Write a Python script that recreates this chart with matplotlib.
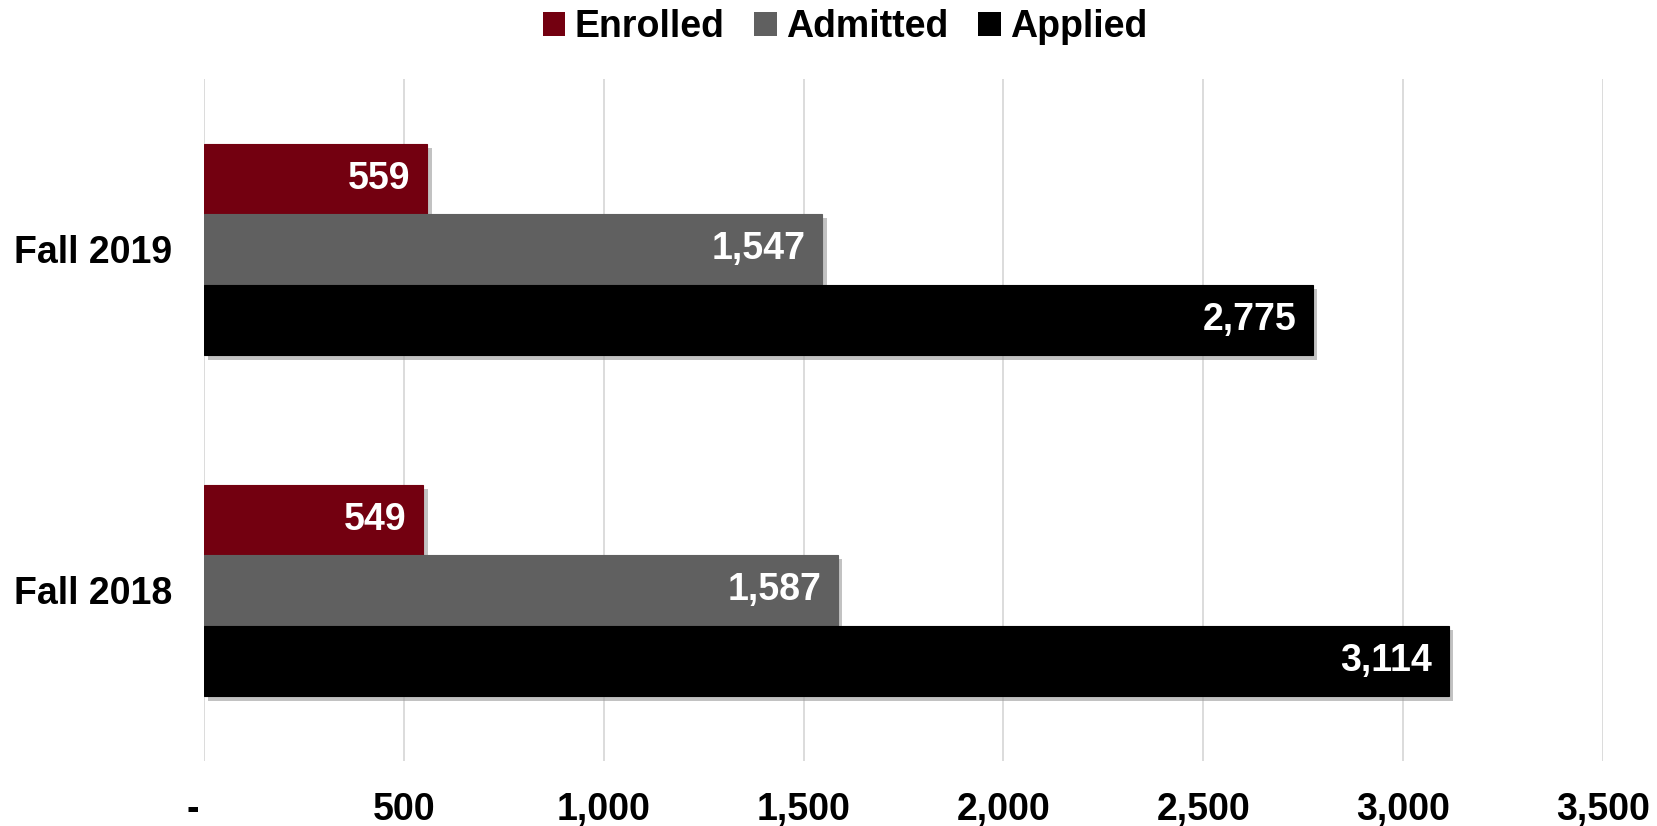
import matplotlib.pyplot as plt
import matplotlib.patheffects as pe
from matplotlib.patches import Patch
import numpy as np

plt.rcParams['font.family'] = ['Liberation Sans', 'DejaVu Sans']

terms = ["Fall 2018", "Fall 2019"]
enrolled = [549, 559]
admitted = [1587, 1547]
applied = [3114, 2775]
x_ticks = [0, 500, 1000, 1500, 2000, 2500, 3000, 3500]
x_tick_labels = ["-  ", "500", "1,000", "1,500", "2,000", "2,500", "3,000", "3,500"]

colors = {"Enrolled": "#730010", "Admitted": "#606060", "Applied": "#000000"}

fig = plt.figure(figsize=(16.57, 8.26), dpi=100)
ax = fig.add_axes([0.1231, 0.0787, 0.8443, 0.8257])

y = np.arange(len(terms))
h = 0.207
shadow = [pe.SimplePatchShadow(offset=(3, -3), shadow_rgbFace="#9a9a9a", alpha=0.6), pe.Normal()]

series = [("Enrolled", enrolled, h), ("Admitted", admitted, 0), ("Applied", applied, -h)]
for name, vals, off in series:
    bars = ax.barh(y + off, vals, height=h, color=colors[name],
                   edgecolor=colors[name], linewidth=0.8, zorder=3)
    for b, v in zip(bars, vals):
        b.set_path_effects(shadow)
        ax.annotate(f"{v:,}", (v, b.get_y() + b.get_height() / 2),
                    xytext=(-12, 0), textcoords="offset points",
                    ha="right", va="center", color="white",
                    fontsize=27, fontweight="bold", zorder=4)

ax.set_xlim(0, 3500)
ax.set_ylim(-0.5, 1.5)
ax.set_xticks(x_ticks)
ax.set_xticklabels(x_tick_labels)
ax.set_yticks(y)
ax.set_yticklabels(terms)
ax.tick_params(axis="x", length=0, pad=22, labelsize=27)
ax.tick_params(axis="y", length=0, pad=23, labelsize=27)
for lbl in ax.get_xticklabels() + ax.get_yticklabels():
    lbl.set_fontweight("bold")

ax.grid(axis="x", color="#d9d9d9", linewidth=1.3, zorder=0)
ax.set_axisbelow(True)
for s in ax.spines.values():
    s.set_visible(False)

handles = [Patch(facecolor=colors[n], label=n) for n in ["Enrolled", "Admitted", "Applied"]]
fig.legend(handles=handles, loc="upper center", bbox_to_anchor=(0.51, 1.03), ncol=3,
           frameon=False, prop={"size": 27, "weight": "bold"},
           handlelength=0.6, handleheight=0.6, handletextpad=0.25, columnspacing=0.8)

fig.savefig("out.png", dpi=100)
